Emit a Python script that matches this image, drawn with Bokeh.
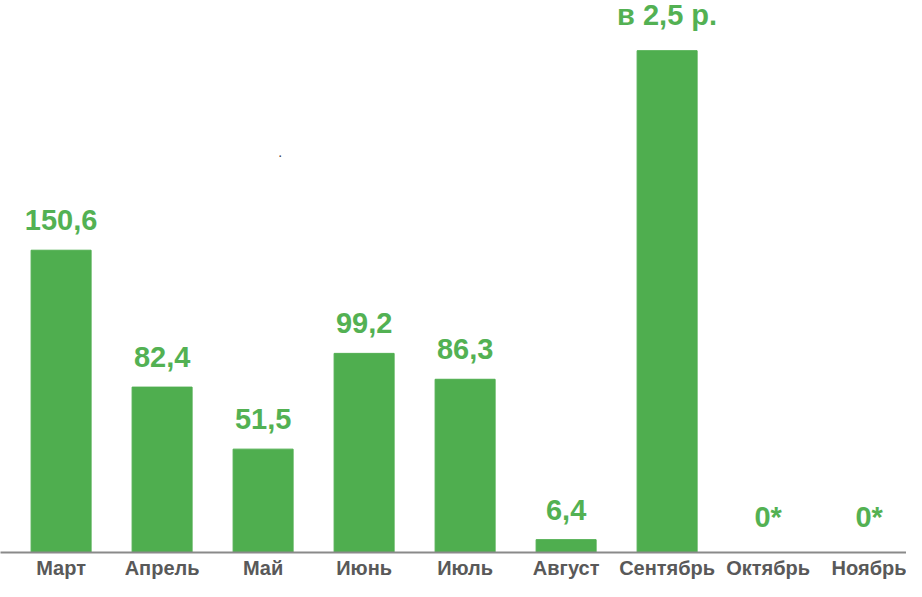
from bokeh.plotting import figure
from bokeh.models import Range1d, FixedTicker, Label, ColumnDataSource
from bokeh.core.properties import value
from bokeh.embed import file_html
from bokeh.resources import INLINE

months = ["Март", "Апрель", "Май", "Июнь", "Июль", "Август", "Сентябрь", "Октябрь", "Ноябрь"]
values = [150.6, 82.4, 51.5, 99.2, 86.3, 6.4, 250.0, 0.0, 0.0]
value_labels = ["150,6", "82,4", "51,5", "99,2", "86,3", "6,4", "в 2,5 р.", "0*", "0*"]

GREEN = "#4FAE4F"
LABEL_GREEN = "#53B153"
GRAY_TEXT = "#595959"

xs = list(range(len(months)))
src = ColumnDataSource(dict(x=xs, top=values, label=value_labels))

p = figure(width=906, height=581, output_backend="svg", toolbar_location=None,
           x_range=Range1d(-0.6, 8.37), y_range=Range1d(0, 275),
           min_border_left=0, min_border_right=0, min_border_top=0, min_border_bottom=0)
p.outline_line_color = None
p.xgrid.visible = False
p.ygrid.visible = False
p.yaxis.visible = False
p.background_fill_color = "white"
p.border_fill_color = "white"

p.vbar(x="x", top="top", bottom=0, width=0.594, color=GREEN, source=src)
p.text(x="x", y="top", text="label", source=src, text_align="center", text_baseline="bottom",
       y_offset=-20, text_font=value("Liberation Sans"), text_font_style="bold",
       text_font_size="29px", text_color=LABEL_GREEN)

ax = p.xaxis[0]
ax.ticker = FixedTicker(ticks=xs)
ax.major_label_overrides = {i: m for i, m in zip(xs, months)}
ax.axis_line_color = "#8A8A8A"
ax.axis_line_width = 2
ax.major_tick_line_color = None
ax.minor_tick_line_color = None
ax.major_tick_out = 0
ax.major_tick_in = 0
ax.major_label_text_font = "Liberation Sans"
ax.major_label_text_font_style = "bold"
ax.major_label_text_font_size = "20px"
ax.major_label_text_color = GRAY_TEXT
ax.major_label_standoff = 4

p.add_layout(Label(x=2.17, y=197, text=".", text_font="Liberation Sans",
                   text_font_size="14px", text_color="#404040", text_align="center"))

open("out.html", "w").write(file_html(p, INLINE))
